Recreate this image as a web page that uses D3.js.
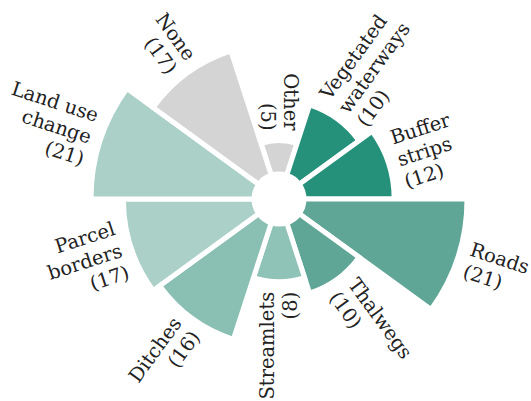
<!DOCTYPE html>
<html>
<head>
<meta charset="utf-8">
<script src="https://cdn.jsdelivr.net/npm/d3@7"></script>
<style>
  body { margin: 0; background: #fff; }
</style>
</head>
<body>
<div class="graph"></div>
<script>
// categories clockwise, starting at the top
const categories = ["Other", "Vegetated waterways", "Buffer strips", "Roads", "Thalwegs",
                    "Streamlets", "Ditches", "Parcel borders", "Land use change", "None"];
const label_lines = [["Other"], ["Vegetated", "waterways"], ["Buffer", "strips"], ["Roads"], ["Thalwegs"],
                     ["Streamlets"], ["Ditches"], ["Parcel", "borders"], ["Land use", "change"], ["None"]];
const counts = [5, 10, 12, 21, 10, 8, 16, 17, 21, 17];
const colors = ["#d4d4d4", "#25917b", "#25917b", "#5fa697", "#5fa697",
                "#90c3b8", "#8abfb3", "#abd0c8", "#abd0c8", "#d4d4d4"];

const svg_dimensions = { width: 531, height: 401, cx: 279, cy: 199 };
const font_size = 19.5;
const line_height = 23;
const label_pad = 10;

let svg = d3.select('.graph')
  .append('svg')
    .attr('width', svg_dimensions.width)
    .attr('height', svg_dimensions.height);

let chart = svg.append('g')
  .attr('transform', 'translate(' + svg_dimensions.cx + ',' + svg_dimensions.cy + ')');

const step = 2 * Math.PI / categories.length;
let angle = d3.scaleBand()
  .domain(categories)
  .range([-step / 2, 2 * Math.PI - step / 2]);

let radius = d3.scaleLinear()
  .domain([0, 21])
  .range([18, 188]);

let arc = d3.arc()
  .innerRadius(25)
  .outerRadius((d, i) => radius(counts[i]))
  .startAngle(d => angle(d))
  .endAngle(d => angle(d) + angle.bandwidth());

chart.selectAll('path')
  .data(categories).enter().append('path')
    .attr('d', (d, i) => arc(d, i))
    .attr('fill', (d, i) => colors[i])
    .attr('stroke', '#fff')
    .attr('stroke-width', 5)
    .attr('stroke-linejoin', 'miter');

// white hole in the middle
chart.append('circle').attr('r', 25).attr('fill', '#fff');

const isRight = d => {
  const deg = (angle(d) + angle.bandwidth() / 2) * 180 / Math.PI;
  return deg > 0.5 && deg < 179.5;
};

let labels = chart.selectAll('text.label')
  .data(categories).enter().append('text')
    .attr('class', 'label')
    .attr('font-family', "'DejaVu Serif', serif")
    .attr('font-size', font_size)
    .attr('fill', '#222')
    .attr('transform', (d, i) => {
      const a = angle(d) + angle.bandwidth() / 2;
      const r = radius(counts[i]) + label_pad;
      const x = r * Math.sin(a), y = -r * Math.cos(a);
      const deg = a * 180 / Math.PI;
      const rot = isRight(d) ? deg - 90 : deg + 90;
      return 'translate(' + x + ',' + y + ') rotate(' + rot + ')';
    })
    .attr('text-anchor', d => isRight(d) ? 'start' : 'end');

labels.each(function(d, i) {
  const lines = label_lines[i].concat(['(' + counts[i] + ')']);
  const top = -(lines.length - 1) / 2 * line_height + font_size * 0.33;
  d3.select(this).selectAll('tspan')
    .data(lines).enter().append('tspan')
      .attr('x', 0)
      .attr('y', (l, j) => top + j * line_height)
      .text(l => l);
});
</script>
</body>
</html>
